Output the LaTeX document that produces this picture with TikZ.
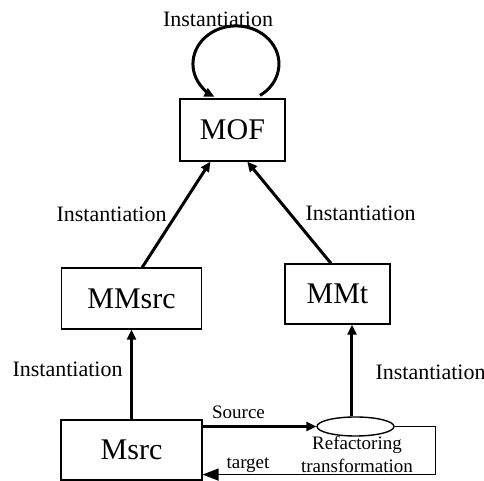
\documentclass[tikz,border=0pt]{standalone}
\usepackage{fontspec}
\setmainfont{Liberation Serif}
\usetikzlibrary{arrows.meta,calc,shapes.geometric}

\begin{document}
\begin{tikzpicture}[
  x=0.5pt, y=-0.5pt,
  box/.style={draw, line width=0.6pt, inner sep=0pt, font=\fontsize{15}{17}\selectfont},
  ell/.style={draw, ellipse, line width=0.7pt, inner sep=0pt, minimum width=38.5pt, minimum height=9.5pt},
  arr/.style={-{Triangle[length=5pt, width=4.5pt]}, line width=1.5pt},
  tarr/.style={-{Triangle[length=8pt, width=6pt]}, line width=0.7pt},
  lbl/.style={font=\fontsize{11}{13}\selectfont, inner sep=0pt},
  sml/.style={font=\fontsize{9.5}{11.5}\selectfont, inner sep=0pt, align=center}
]
\useasboundingbox (0,0) rectangle (484,481);

% Models
\node[box, minimum width=52.5pt, minimum height=31pt] (mof) at (232.5,130) {MOF};
\node[box, minimum width=70pt, minimum height=30.5pt] (mmsrc) at (131.5,298.5) {MMsrc};
\node[box, minimum width=52.5pt, minimum height=30pt] (mmt) at (337.5,294) {MMt};
\node[box, minimum width=70.5pt, minimum height=30pt] (msrc) at (131.5,450) {Msrc};
\node[ell] (rt) at (355.5,426.5) {};

% Labels
\node[lbl] (ltop) at (218,19) {Instantiation};
\node[lbl] (lmms) at (111.5,214) {Instantiation};
\node[lbl] (lmmt) at (360.5,213) {Instantiation};
\node[lbl] (lms) at (67.5,369) {Instantiation};
\node[lbl] (lrt) at (430.5,372) {Instantiation};
\node[sml] (lsrc) at (238.5,412) {Source};
\node[sml] (ltgt) at (248,465) {target};
\node[sml] (lref) at (357,454) {Refactoring\\transformation};

% Instantiation arrows
\coordinate (loop) at ($(mof.north)+(27.5,-3)$);
\draw[arr] (loop) arc[start angle=-56, end angle=240, x radius=21.5pt, y radius=19pt];
\draw[arr] (mmsrc.71) -- (mof.235);
\draw[arr] (mmt.102) -- (mof.295);
\draw[arr] (msrc.north) -- (mmsrc.south);
\draw[arr] ([xshift=-1.75pt]rt.north) -- ([xshift=-1.75pt]rt.north |- mmt.south);

% Transformation
\draw[arr, line width=1.3pt] (rt.west -| msrc.east) -- (rt.west);
\draw[tarr] (rt.east) -- ++(41,0) |- ([yshift=3pt]msrc.south east);

\end{tikzpicture}
\end{document}
